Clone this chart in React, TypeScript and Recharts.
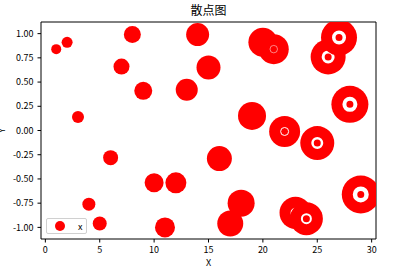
import { ScatterChart, Scatter, XAxis, YAxis, Legend, ReferenceLine } from "recharts"

const title = "散点图"
const seriesName = "x"
const xValues = [1, 2, 3, 4, 5, 6, 7, 8, 9, 10, 11, 12, 13, 14, 15, 16, 17, 18, 19, 20, 21, 22, 23, 24, 25, 26, 27, 28, 29]
const yValues = [0.84, 0.91, 0.14, -0.76, -0.96, -0.28, 0.66, 0.99, 0.41, -0.54, -1.0, -0.54, 0.42, 0.99, 0.65, -0.29, -0.96, -0.75, 0.15, 0.91, 0.84, -0.01, -0.85, -0.91, -0.13, 0.76, 0.96, 0.27, -0.66]
const xTicks = [0, 5, 10, 15, 20, 25, 30]
const yTicks = [-1, -0.75, -0.5, -0.25, 0, 0.25, 0.5, 0.75, 1]

const data = xValues.map((x, i) => ({ x, y: yValues[i] }))

const X_DOMAIN = [-0.4, 30.4]
const Y_DOMAIN = [-1.12, 1.12]
const FONT = '"Noto Sans CJK SC", sans-serif'
const RED = "#ff0000"

// marker grows with x; the big ones get a white ring like the original
function Bubble(props: any) {
  const { cx, cy, payload } = props
  const r = 4.5 + payload.x * 0.5
  const w = Math.max(0, (payload.x - 20) * 0.5)
  return (
    <g>
      <circle cx={cx} cy={cy} r={r} fill={RED} />
      {w > 0 && <circle cx={cx} cy={cy} r={3.5 + w / 2} fill="none" stroke="#fff" strokeWidth={w} />}
    </g>
  )
}

function LegendBox() {
  return (
    <div
      style={{
        display: "flex",
        alignItems: "center",
        width: 41,
        height: 16,
        boxSizing: "border-box",
        border: "1px solid #d0d0d0",
        borderRadius: 2,
        background: "#fff",
        fontFamily: FONT,
        fontSize: 9,
        color: "#000",
      }}
    >
      <svg width={26} height={14}>
        <circle cx={13} cy={7} r={5} fill={RED} />
      </svg>
      <span style={{ marginLeft: 5 }}>{seriesName}</span>
    </div>
  )
}

const tickStyle = { fill: "#000", fontSize: 9, fontFamily: FONT }
const lineStyle = { stroke: "#000" }

export default function App() {
  return (
    <div style={{ position: "absolute", left: 0, top: 0, background: "#fff" }}>
      <ScatterChart width={416} height={269} margin={{ top: 22, right: 40, bottom: 0, left: 0 }}>
        <XAxis
          dataKey="x"
          type="number"
          domain={X_DOMAIN}
          ticks={xTicks}
          allowDataOverflow
          height={30}
          tickSize={3.5}
          tickMargin={4}
          tick={tickStyle}
          tickLine={lineStyle}
          axisLine={lineStyle}
          label={{
            content: (p: any) => (
              <text x={p.viewBox.x + p.viewBox.width / 2} y={265.5} textAnchor="middle" fontSize={9} fontFamily={FONT} fill="#000">
                X
              </text>
            ),
          }}
        />
        <YAxis
          dataKey="y"
          type="number"
          domain={Y_DOMAIN}
          ticks={yTicks}
          allowDataOverflow
          width={41}
          tickSize={3.5}
          tickMargin={4}
          tick={tickStyle}
          tickFormatter={(v: number) => v.toFixed(2)}
          tickLine={lineStyle}
          axisLine={lineStyle}
          label={{
            content: (p: any) => {
              const cy = p.viewBox.y + p.viewBox.height / 2
              return (
                <text x={5} y={cy} transform={`rotate(-90 5 ${cy})`} textAnchor="middle" fontSize={9} fontFamily={FONT} fill="#000">
                  Y
                </text>
              )
            },
          }}
        />
        <Legend
          layout="horizontal"
          verticalAlign="middle"
          content={() => <LegendBox />}
          wrapperStyle={{ left: 46, top: 218, width: "auto" }}
        />
        <Scatter name={seriesName} data={data} fill={RED} shape={Bubble} isAnimationActive={false} />
        {/* top and right spines */}
        <ReferenceLine
          y={Y_DOMAIN[1]}
          stroke="#000"
          strokeOpacity={1}
          label={{
            content: (p: any) => (
              <text x={p.viewBox.x + p.viewBox.width / 2} y={p.viewBox.y - 7} textAnchor="middle" fontSize={12} fontFamily={FONT} fill="#000">
                {title}
              </text>
            ),
          }}
        />
        <ReferenceLine x={X_DOMAIN[1]} stroke="#000" strokeOpacity={1} />
      </ScatterChart>
    </div>
  )
}
